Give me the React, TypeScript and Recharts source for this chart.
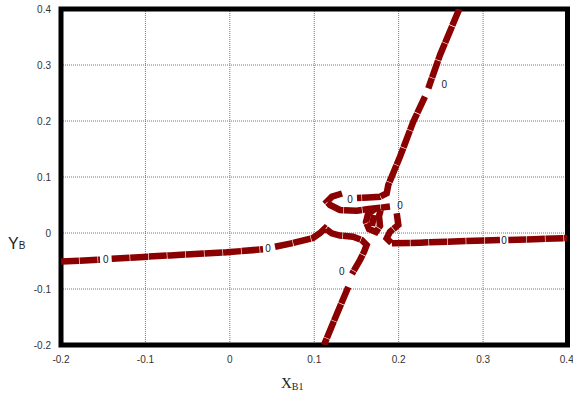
import React from 'react';
import {
  ComposedChart,
  Line,
  XAxis,
  YAxis,
  CartesianGrid,
  ReferenceArea,
  ReferenceDot,
} from 'recharts';

type Pt = { x: number; y: number };

const xTicks = [-0.2, -0.1, 0, 0.1, 0.2, 0.3, 0.4];
const yTicks = [-0.2, -0.1, 0, 0.1, 0.2, 0.3, 0.4];

// contour level 0, split into pieces where the labels interrupt it
const segA: Pt[] = [
  { x: -0.2, y: -0.0509 },
  { x: -0.1538, y: -0.0477 },
];
const segB: Pt[] = [
  { x: -0.14, y: -0.0459 },
  { x: -0.0709, y: -0.04 },
  { x: -0.0037, y: -0.0345 },
  { x: 0.0393, y: -0.0291 },
];
const segC: Pt[] = [
  { x: 0.0535, y: -0.0245 },
  { x: 0.0748, y: -0.0179 },
  { x: 0.0985, y: -0.0089 },
  { x: 0.1069, y: 0.0 },
  { x: 0.1128, y: 0.0084 },
  { x: 0.1207, y: -0.0005 },
  { x: 0.1305, y: -0.0045 },
  { x: 0.1459, y: -0.0066 },
  { x: 0.1562, y: -0.0125 },
  { x: 0.1621, y: -0.0214 },
  { x: 0.1589, y: -0.0339 },
  { x: 0.1542, y: -0.0482 },
  { x: 0.1447, y: -0.0732 },
];
const segD: Pt[] = [
  { x: 0.1403, y: -0.0964 },
  { x: 0.1258, y: -0.1482 },
  { x: 0.1115, y: -0.2 },
];
const segE: Pt[] = [
  { x: 0.2718, y: 0.4 },
  { x: 0.249, y: 0.3179 },
  { x: 0.2351, y: 0.2584 },
];
const segF: Pt[] = [
  { x: 0.2312, y: 0.2434 },
  { x: 0.2173, y: 0.1988 },
  { x: 0.2016, y: 0.1363 },
  { x: 0.1877, y: 0.0857 },
  { x: 0.1858, y: 0.0709 },
  { x: 0.1779, y: 0.0648 },
  { x: 0.1637, y: 0.0634 },
  { x: 0.1506, y: 0.0625 },
];
const segG: Pt[] = [
  { x: 0.1329, y: 0.0705 },
  { x: 0.121, y: 0.0648 },
  { x: 0.1151, y: 0.0559 },
  { x: 0.1187, y: 0.05 },
  { x: 0.1305, y: 0.0411 },
  { x: 0.1503, y: 0.0398 },
  { x: 0.1621, y: 0.0423 },
  { x: 0.1755, y: 0.0446 },
  { x: 0.1897, y: 0.0473 },
];
const segH: Pt[] = [
  { x: 0.1977, y: 0.0352 },
  { x: 0.1996, y: 0.0143 },
  { x: 0.1897, y: 0.0023 },
  { x: 0.1858, y: -0.0095 },
  { x: 0.1917, y: -0.0184 },
  { x: 0.2253, y: -0.0173 },
  { x: 0.2569, y: -0.0155 },
  { x: 0.32, y: -0.0125 },
];
const segI: Pt[] = [
  { x: 0.3299, y: -0.0125 },
  { x: 0.3674, y: -0.0107 },
  { x: 0.4, y: -0.0089 },
];
const segJ: Pt[] = [
  { x: 0.172, y: 0.0429 },
  { x: 0.1637, y: 0.0339 },
  { x: 0.1613, y: 0.0196 },
  { x: 0.1648, y: 0.0071 },
  { x: 0.1731, y: 0.0018 },
  { x: 0.1779, y: 0.0125 },
  { x: 0.1767, y: 0.0304 },
  { x: 0.1791, y: 0.0429 },
];
const segK: Pt[] = [
  { x: 0.1708, y: 0.0321 },
  { x: 0.1684, y: 0.0125 },
];

const segments: Pt[][] = [segA, segB, segC, segD, segE, segF, segG, segH, segI, segJ, segK];

const contourLabels: Pt[] = [
  { x: -0.147, y: -0.047 },
  { x: 0.0452, y: -0.0268 },
  { x: 0.1325, y: -0.0679 },
  { x: 0.254, y: 0.266 },
  { x: 0.1423, y: 0.0602 },
  { x: 0.2016, y: 0.05 },
  { x: 0.3248, y: -0.0125 },
];
const contourLevel = '0';

const tickStyle = { fontSize: 10, fill: '#333', fontFamily: 'Liberation Sans, Arial, sans-serif' };

export default function App() {
  return (
    <div style={{ position: 'absolute', left: 0, top: 0 }}>
      <ComposedChart width={573} height={396} margin={{ top: 9, right: 5.5, bottom: 0, left: 0 }}>
        <CartesianGrid stroke="#777" strokeDasharray="1 1" strokeWidth={1} />
        <XAxis
          type="number"
          dataKey="x"
          domain={[-0.2, 0.4]}
          ticks={xTicks}
          allowDataOverflow
          axisLine={false}
          tickLine={false}
          tickMargin={5}
          tick={tickStyle}
          height={51}
          tickFormatter={(v: number) => String(Math.round(v * 10) / 10)}
          label={{
            content: () => (
              <text x={281} y={388} fontFamily="Liberation Serif, Times New Roman, serif" fill="#222">
                <tspan fontSize={15}>X</tspan>
                <tspan fontSize={10} dy={2}>B1</tspan>
              </text>
            ),
          }}
        />
        <YAxis
          type="number"
          dataKey="y"
          domain={[-0.2, 0.4]}
          ticks={yTicks}
          allowDataOverflow
          axisLine={false}
          tickLine={false}
          tickMargin={4}
          width={61}
          tick={tickStyle}
          tickFormatter={(v: number) => String(Math.round(v * 10) / 10)}
          label={{
            content: () => (
              <text x={8} y={249} fontFamily="Liberation Sans, Arial, sans-serif" fill="#222">
                <tspan fontSize={16}>Y</tspan>
                <tspan fontSize={10} dy={0}>B</tspan>
              </text>
            ),
          }}
        />
        {segments.map((seg, i) => (
          <Line
            key={i}
            data={seg}
            dataKey="y"
            type="linear"
            stroke="#8B0000"
            strokeWidth={6.5}
            strokeDasharray="18 0.6"
            dot={false}
            activeDot={false}
            isAnimationActive={false}
          />
        ))}
        {contourLabels.map((p, i) => (
          <ReferenceDot
            key={'l' + i}
            x={p.x}
            y={p.y}
            r={0}
            fill="none"
            stroke="none"
            label={{ value: contourLevel, position: 'center', fontSize: 10, fill: '#222', fontFamily: 'Liberation Sans, Arial, sans-serif' }}
          />
        ))}
        <ReferenceArea
          x1={-0.2}
          x2={0.4}
          y1={-0.2}
          y2={0.4}
          fill="none"
          fillOpacity={0}
          stroke="#000"
          strokeWidth={5}
          ifOverflow="visible"
        />
      </ComposedChart>
    </div>
  );
}
